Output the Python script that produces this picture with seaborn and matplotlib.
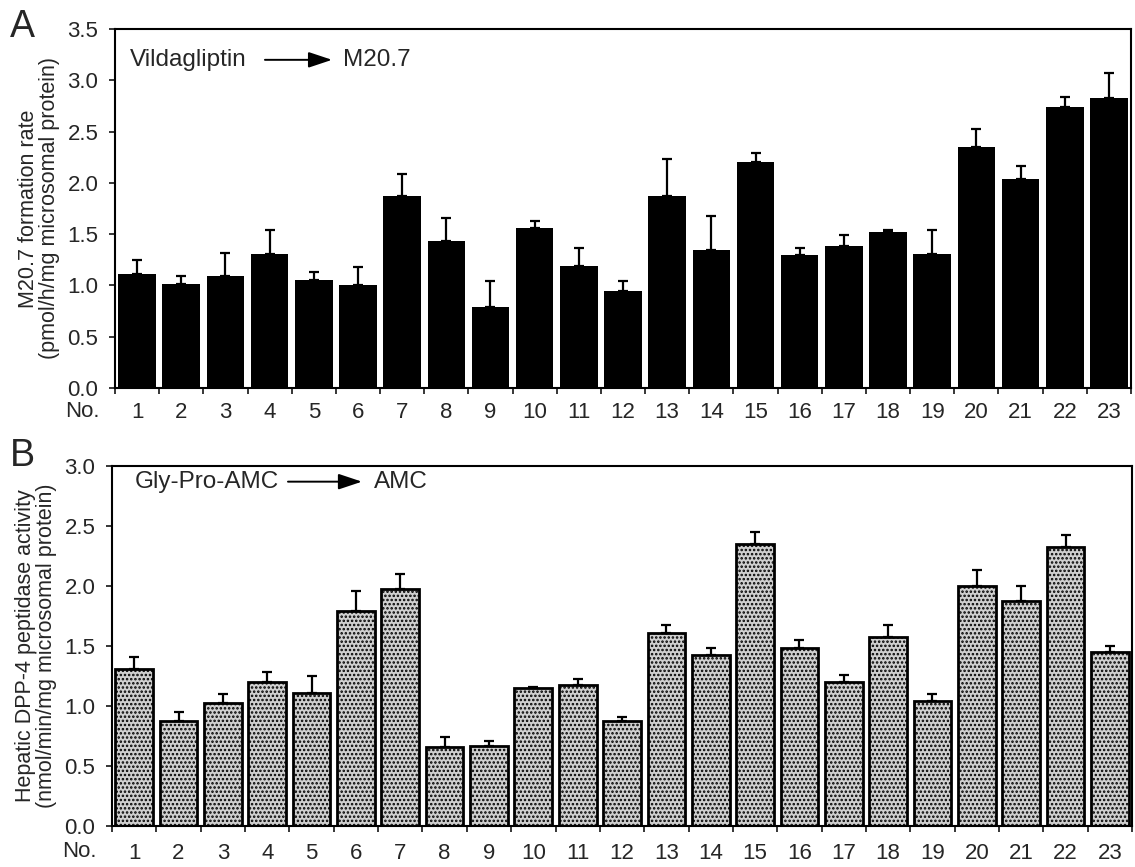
import matplotlib
matplotlib.use("Agg")
import matplotlib.pyplot as plt
import seaborn as sns
import numpy as np

sns.set_style("ticks")
plt.rcParams["font.family"] = ["Liberation Sans", "DejaVu Sans"]
plt.rcParams["hatch.linewidth"] = 1.2

# Liver sample numbers
samples = [str(i) for i in range(1, 24)]

# Panel A: M20.7 formation rate (pmol/h/mg microsomal protein), mean and upper SD
m207_rate = [1.11, 1.01, 1.09, 1.31, 1.05, 1.00, 1.87, 1.43, 0.79, 1.56, 1.19, 0.95,
             1.87, 1.35, 2.20, 1.30, 1.38, 1.52, 1.31, 2.35, 2.04, 2.74, 2.83]
m207_sd = [0.14, 0.08, 0.23, 0.23, 0.08, 0.18, 0.22, 0.23, 0.25, 0.07, 0.17, 0.09,
           0.36, 0.33, 0.09, 0.06, 0.11, 0.02, 0.23, 0.17, 0.12, 0.10, 0.24]

# Panel B: hepatic DPP-4 peptidase activity (nmol/min/mg microsomal protein)
dpp4_activity = [1.31, 0.87, 1.02, 1.20, 1.11, 1.79, 1.97, 0.66, 0.67, 1.15, 1.17, 0.87,
                 1.61, 1.42, 2.35, 1.48, 1.20, 1.57, 1.04, 2.00, 1.87, 2.32, 1.45]
dpp4_sd = [0.10, 0.08, 0.08, 0.08, 0.14, 0.17, 0.13, 0.08, 0.04, 0.01, 0.05, 0.04,
           0.06, 0.06, 0.10, 0.07, 0.06, 0.10, 0.06, 0.13, 0.13, 0.10, 0.05]

fig = plt.figure(figsize=(11.35, 8.67), dpi=100)
axA = fig.add_axes([0.1013, 0.5525, 0.8952, 0.4141])
axB = fig.add_axes([0.0987, 0.0473, 0.8987, 0.4156])

TICK_FS = 16
LABEL_FS = 15.5
NOTE_FS = 17.5


def style_axis(ax, ymax, ylabel, xpad, no_y):
    n = len(samples)
    ax.set_xlim(-0.5, n - 0.5)
    ax.set_ylim(0, ymax)
    yt = np.arange(0, ymax + 0.01, 0.5)
    ax.set_yticks(yt)
    ax.set_yticklabels([f"{v:.1f}" for v in yt], fontsize=TICK_FS)
    # category labels centred under bars, ticks between bars
    ax.set_xticks(np.arange(n))
    ax.set_xticklabels(samples, fontsize=TICK_FS)
    ax.tick_params(axis="x", which="major", length=0, pad=xpad)
    ax.set_xticks(np.arange(n + 1) - 0.5, minor=True)
    ax.tick_params(axis="x", which="minor", length=4, width=1.3, direction="out")
    ax.tick_params(axis="y", length=4, width=1.3, direction="out", pad=8)
    for s in ax.spines.values():
        s.set_visible(True)
        s.set_linewidth(1.5)
        s.set_color("black")
    ax.set_xlabel("")
    ax.set_ylabel(ylabel, fontsize=LABEL_FS, linespacing=1.0, labelpad=5)
    ax.text(-0.015, no_y, "No.", transform=ax.transAxes,
            ha="right", va="center", fontsize=TICK_FS)


def reaction_note(ax, y, substrate, x_sub, x_arrow0, x_arrow1, product, x_prod):
    ax.text(x_sub, y, substrate, transform=ax.transAxes,
            ha="left", va="center", fontsize=NOTE_FS)
    ax.annotate("", xy=(x_arrow1, y), xytext=(x_arrow0, y),
                xycoords="axes fraction", textcoords="axes fraction",
                arrowprops=dict(arrowstyle="-|>,head_length=0.9,head_width=0.3",
                                color="black", lw=1.4, shrinkA=0, shrinkB=0,
                                mutation_scale=16))
    ax.text(x_prod, y, product, transform=ax.transAxes,
            ha="left", va="center", fontsize=NOTE_FS)


# ---- Panel A ----
sns.barplot(x=samples, y=m207_rate, color="black", saturation=1, width=0.85,
            edgecolor="black", linewidth=0, ax=axA)
axA.errorbar(np.arange(len(samples)), m207_rate,
             yerr=[np.zeros(len(m207_sd)), m207_sd],
             fmt="none", ecolor="black", elinewidth=1.6, capsize=3.6, capthick=1.6)
style_axis(axA, 3.5, "M20.7 formation rate\n(pmol/h/mg microsomal protein)", 10, -0.066)
reaction_note(axA, 0.914, "Vildagliptin", 0.0148, 0.1476, 0.2136, "M20.7", 0.2244)

# ---- Panel B ----
sns.barplot(x=samples, y=dpp4_activity, color="#cfcfcf", saturation=1, width=0.85,
            edgecolor="black", linewidth=2.0, hatch="....", ax=axB)
axB.errorbar(np.arange(len(samples)), dpp4_activity,
             yerr=[np.zeros(len(dpp4_sd)), dpp4_sd],
             fmt="none", ecolor="black", elinewidth=1.6, capsize=3.6, capthick=1.6)
style_axis(axB, 3.0, "Hepatic DPP-4 peptidase activity\n(nmol/min/mg microsomal protein)", 12, -0.071)
reaction_note(axB, 0.9556, "Gly-Pro-AMC", 0.0225, 0.1725, 0.245, "AMC", 0.257)

# panel letters
fig.text(0.009, 0.9573, "A", fontsize=27, ha="left", va="baseline")
fig.text(0.009, 0.4625, "B", fontsize=27, ha="left", va="baseline")

fig.savefig("out.png", dpi=100)
